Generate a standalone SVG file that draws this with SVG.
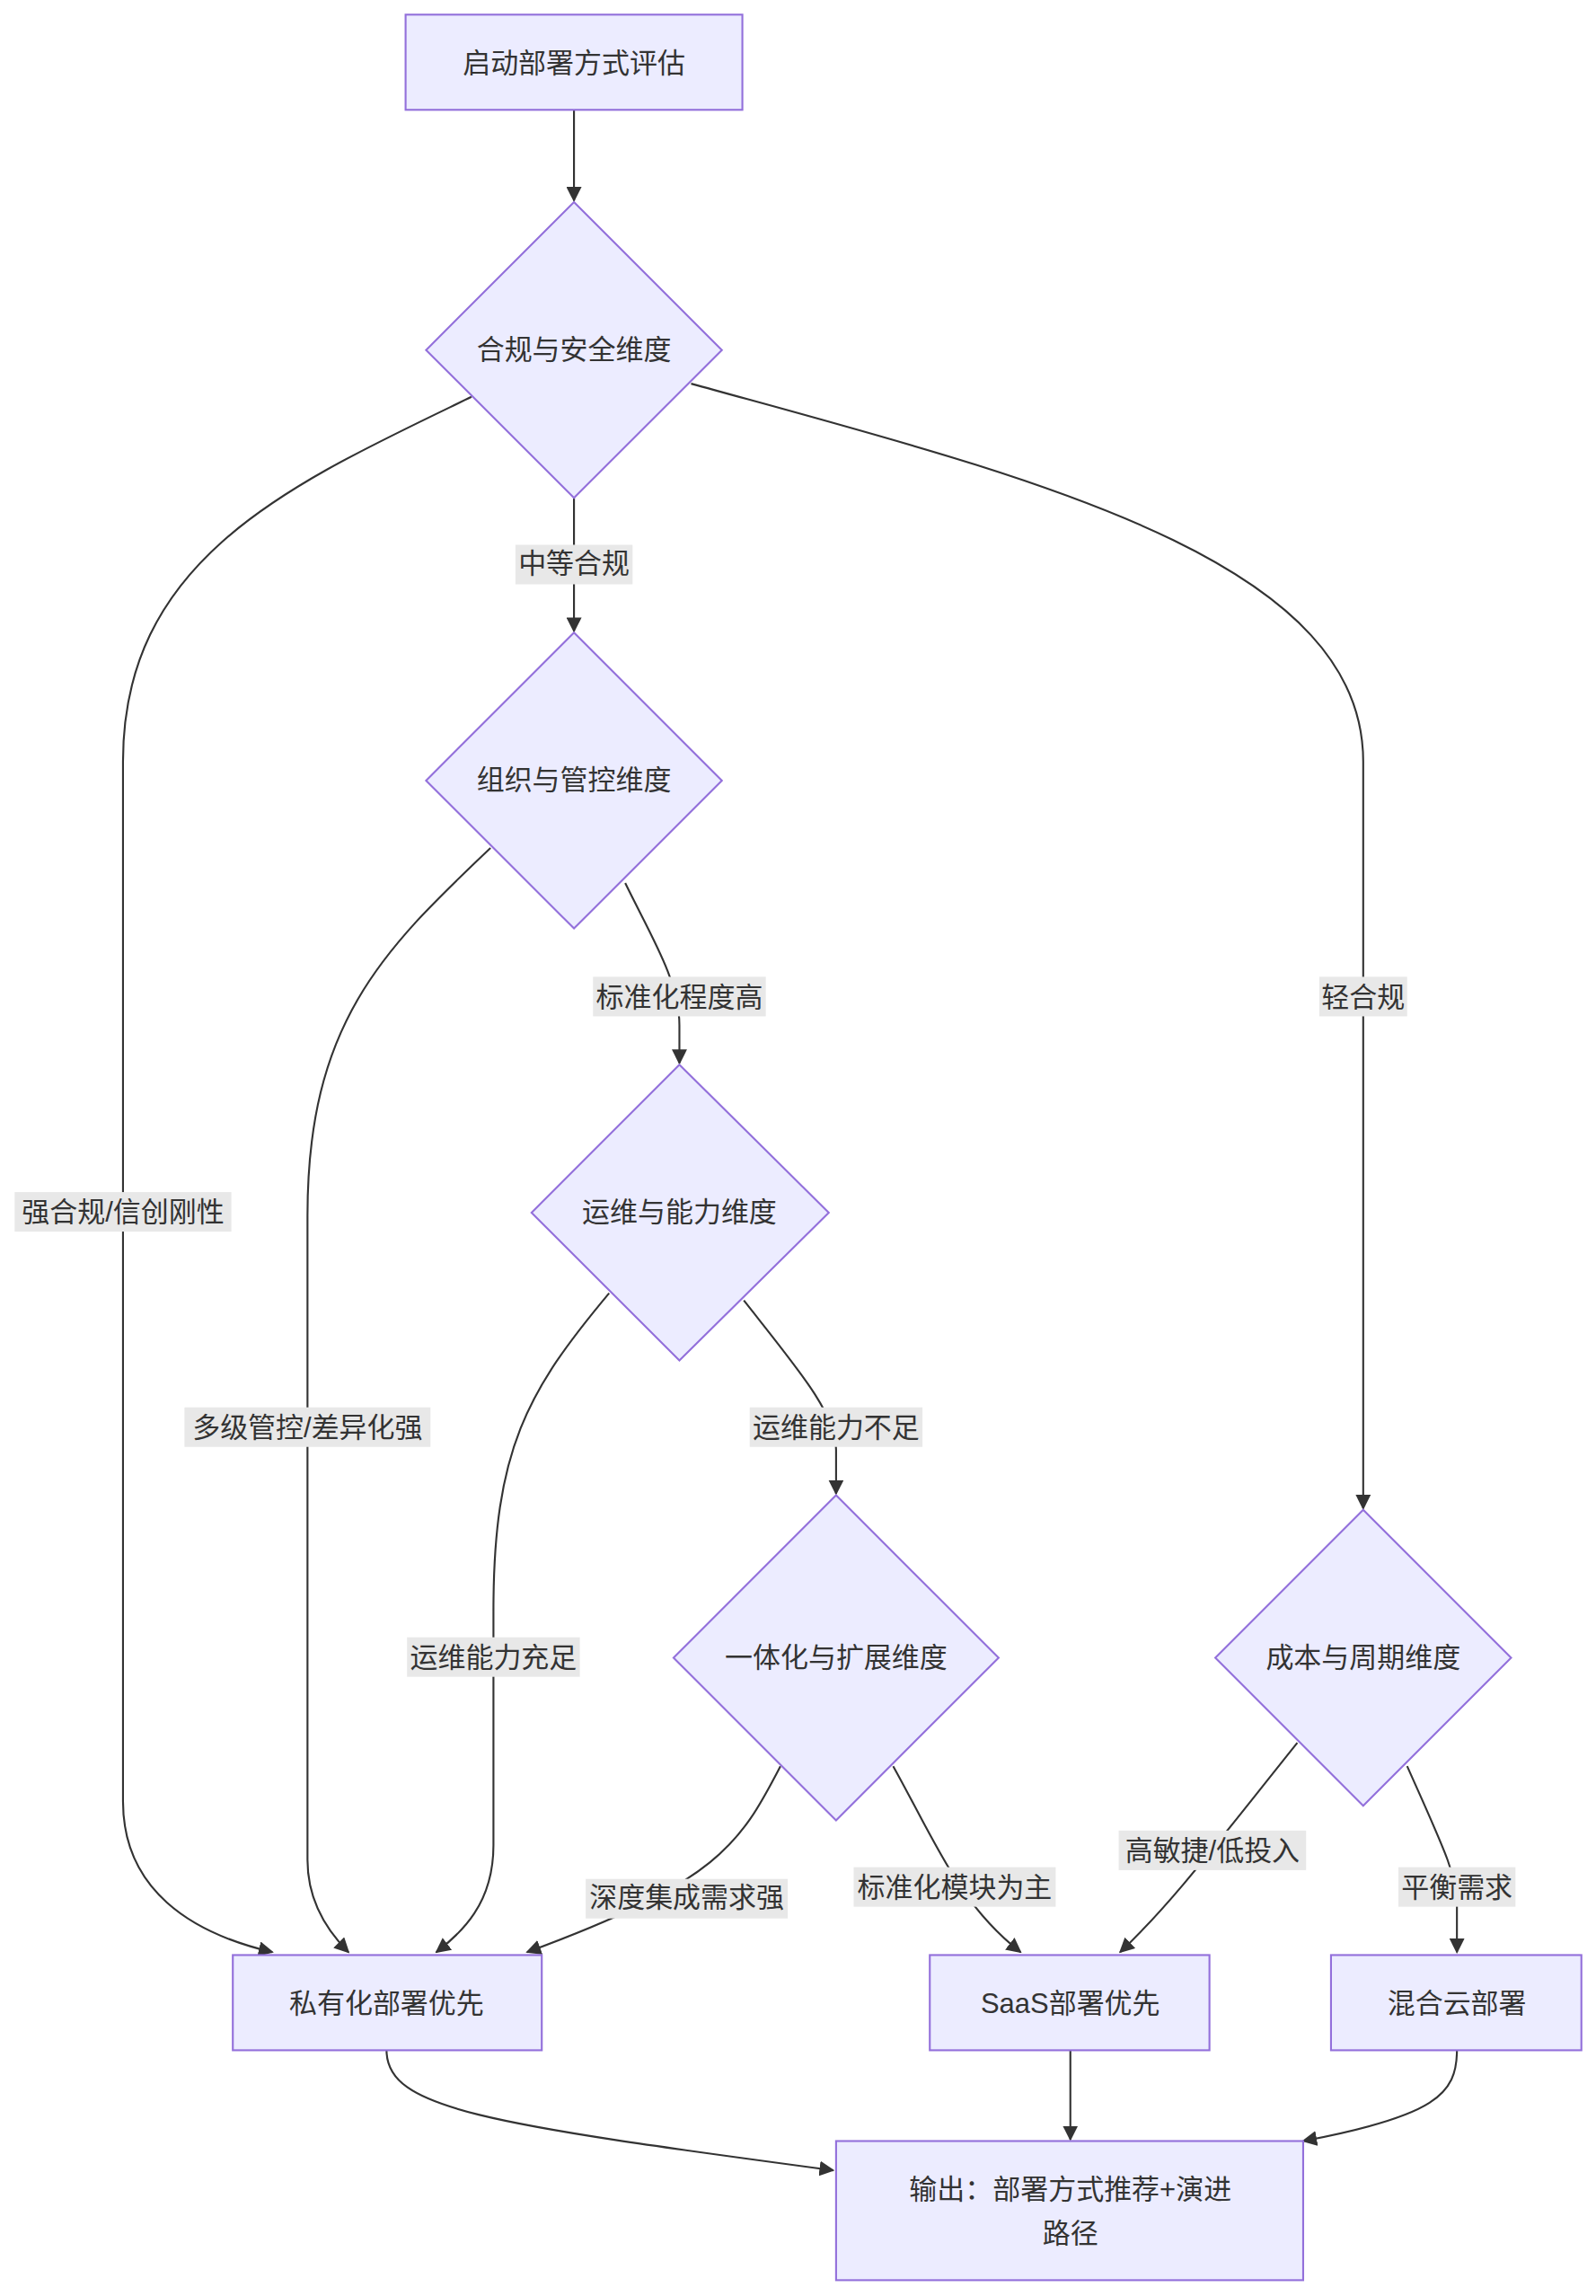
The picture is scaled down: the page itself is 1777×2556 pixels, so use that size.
<svg xmlns="http://www.w3.org/2000/svg" width="1777" height="2556" viewBox="0 0 1777 2556">
<style>
.n{fill:#ececff;stroke:#9370db;stroke-width:1.3}
.t{font-family:"Liberation Sans","Noto Sans CJK SC",sans-serif;font-size:19px;fill:#333;text-anchor:middle;dominant-baseline:central}
.e{fill:none;stroke:#333;stroke-width:1.3}
.lb{fill:#e8e8e8}
</style>
<defs><marker id="a" viewBox="0 0 10 10" refX="9" refY="5" markerWidth="8" markerHeight="8" orient="auto-start-reverse"><path d="M0,0L10,5L0,10z" fill="#333"/></marker></defs>
<rect width="1777" height="2556" fill="#fff"/>
<g transform="scale(1.6303)">
<g id="connectors">
<path class="e" marker-end="url(#a)" d="M392,75V137"/>
<path class="e" marker-end="url(#a)" d="M392,340V431"/>
<path class="e" marker-end="url(#a)" d="M322,271C200,330 84,380 84,520V1230C84,1290 130,1320 186,1333"/>
<path class="e" marker-end="url(#a)" d="M472,262C700,325 931,380 931,520V1030"/>
<path class="e" marker-end="url(#a)" d="M335,579C260,650 210,700 210,830V1270C210,1300 225,1320 238,1333"/>
<path class="e" marker-end="url(#a)" d="M427,603C445,640 464,670 464,700V726"/>
<path class="e" marker-end="url(#a)" d="M416,883C360,950 337,990 337,1100V1260C337,1300 315,1320 298,1333"/>
<path class="e" marker-end="url(#a)" d="M508,888C545,935 571,965 571,990V1020"/>
<path class="e" marker-end="url(#a)" d="M533,1206C505,1260 490,1285 360,1333"/>
<path class="e" marker-end="url(#a)" d="M610,1206C640,1260 655,1300 697,1333"/>
<path class="e" marker-end="url(#a)" d="M886,1190C830,1260 800,1300 765,1333"/>
<path class="e" marker-end="url(#a)" d="M961,1206C985,1260 995,1280 995,1300V1333"/>
<path class="e" marker-end="url(#a)" d="M264,1400C264,1440 330,1450 569,1482"/>
<path class="e" marker-end="url(#a)" d="M731,1400V1461"/>
<path class="e" marker-end="url(#a)" d="M995,1400C995,1430 980,1445 890,1462"/>
<g>
<rect class="lb" x="352" y="372" width="80" height="27"/><text class="t" x="392" y="385">中等合规</text>
<rect class="lb" x="10" y="814" width="148" height="27"/><text class="t" x="84" y="828">强合规/信创刚性</text>
<rect class="lb" x="901" y="667" width="60" height="27"/><text class="t" x="931" y="681">轻合规</text>
<rect class="lb" x="126" y="961" width="168" height="27"/><text class="t" x="210" y="975">多级管控/差异化强</text>
<rect class="lb" x="405" y="667" width="118" height="27"/><text class="t" x="464" y="681">标准化程度高</text>
<rect class="lb" x="278" y="1118" width="118" height="27"/><text class="t" x="337" y="1132">运维能力充足</text>
<rect class="lb" x="512" y="961" width="118" height="27"/><text class="t" x="571" y="975">运维能力不足</text>
<rect class="lb" x="400" y="1283" width="138" height="27"/><text class="t" x="469" y="1296">深度集成需求强</text>
<rect class="lb" x="583" y="1275" width="138" height="27"/><text class="t" x="652" y="1289">标准化模块为主</text>
<rect class="lb" x="764" y="1250" width="128" height="27"/><text class="t" x="828" y="1264">高敏捷/低投入</text>
<rect class="lb" x="955" y="1275" width="80" height="27"/><text class="t" x="995" y="1289">平衡需求</text>
</g>
</g>
<g id="start"><rect class="n" x="277" y="10" width="230" height="65"/><text class="t" x="392" y="43">启动部署方式评估</text></g>
<g id="d1"><path class="n" d="M392,138L493,239L392,340L291,239z"/><text class="t" x="392" y="239">合规与安全维度</text></g>
<g id="d2"><path class="n" d="M392,432L493,533L392,634L291,533z"/><text class="t" x="392" y="533">组织与管控维度</text></g>
<g id="d3"><path class="n" d="M464,727L566,828L464,929L363,828z"/><text class="t" x="464" y="828">运维与能力维度</text></g>
<g id="d4"><path class="n" d="M571,1021L682,1132L571,1243L460,1132z"/><text class="t" x="571" y="1132">一体化与扩展维度</text></g>
<g id="d5"><path class="n" d="M931,1031L1032,1132L931,1233L830,1132z"/><text class="t" x="931" y="1132">成本与周期维度</text></g>
<g id="private"><rect class="n" x="159" y="1335" width="211" height="65"/><text class="t" x="264" y="1368">私有化部署优先</text></g>
<g id="saas"><rect class="n" x="635" y="1335" width="191" height="65"/><text class="t" x="731" y="1368">SaaS部署优先</text></g>
<g id="hybrid"><rect class="n" x="909" y="1335" width="171" height="65"/><text class="t" x="995" y="1368">混合云部署</text></g>
<g id="output"><rect class="n" x="571" y="1462" width="319" height="95"/><text class="t" x="731" y="1495">输出：部署方式推荐+演进</text><text class="t" x="731" y="1525">路径</text></g>
</g>
</svg>
